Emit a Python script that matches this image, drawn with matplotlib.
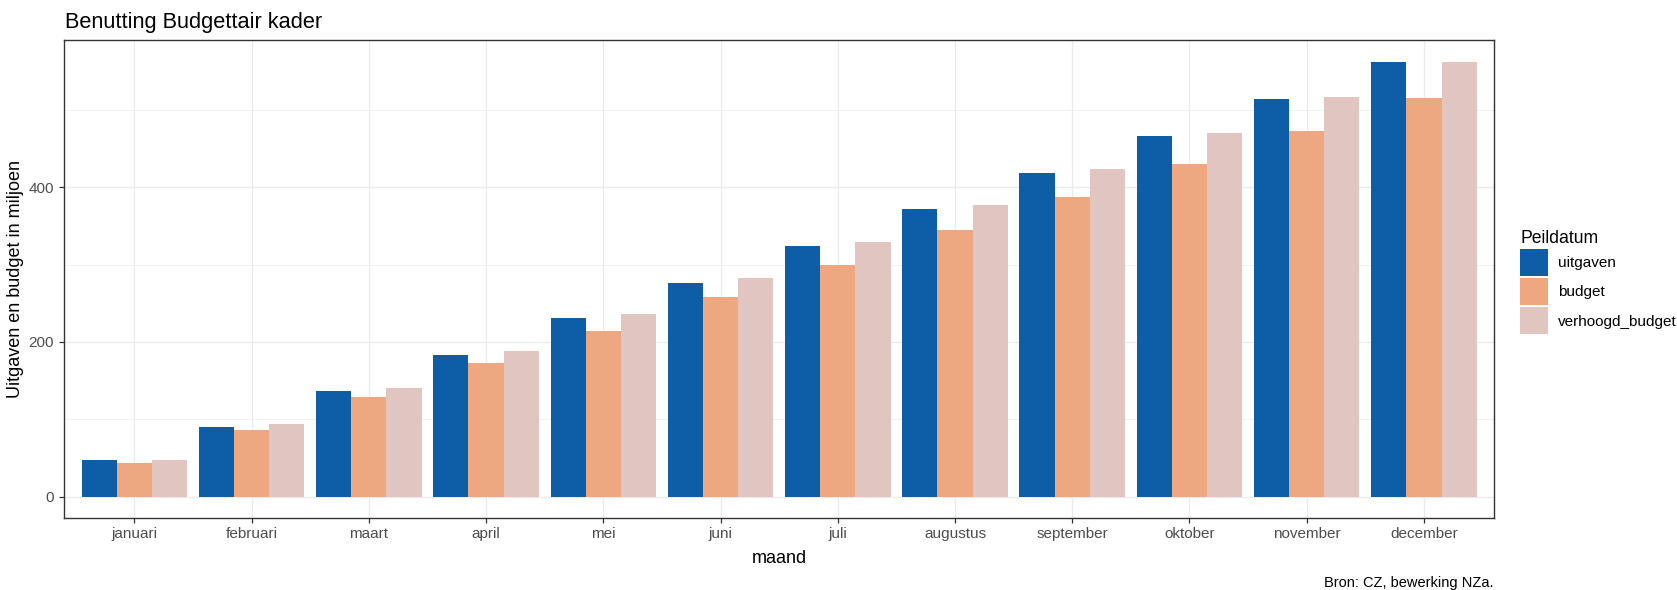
import numpy as np
import matplotlib
matplotlib.use("Agg")
import matplotlib.pyplot as plt
from matplotlib.ticker import MultipleLocator

plt.rcParams['font.family'] = ['Liberation Sans', 'DejaVu Sans']

# maanden en waarden (miljoen)
maanden = ['januari', 'februari', 'maart', 'april', 'mei', 'juni', 'juli',
           'augustus', 'september', 'oktober', 'november', 'december']
uitgaven = [47.7, 89.5, 136.2, 183.3, 230.3, 276.2, 324.7, 371.9, 419.0, 466.8, 513.7, 562.4]
budget = [42.8, 86.6, 128.4, 172.1, 214.3, 258.4, 300.0, 344.2, 387.9, 429.8, 473.2, 515.1]
verhoogd_budget = [47.7, 94.3, 141.0, 187.7, 235.5, 282.7, 329.4, 376.6, 423.8, 470.2, 517.1, 562.4]

series = ['uitgaven', 'budget', 'verhoogd_budget']
kleuren = ['#0D5EA6', '#EDA882', '#E0C5C0']

fig = plt.figure(figsize=(16.77, 5.90), dpi=100)
ax = fig.add_axes([0.03816, 0.12153, 0.8529, 0.8107])

x = np.arange(len(maanden))
breedte = 0.3
for i, (naam, waarden) in enumerate(zip(series, [uitgaven, budget, verhoogd_budget])):
    ax.bar(x + (i - 1) * breedte, waarden, width=breedte, color=kleuren[i],
           label=naam, zorder=3, linewidth=0)

# ggplot-achtige marge van 5% boven en onder
ymax = max(max(uitgaven), max(budget), max(verhoogd_budget))
ax.set_ylim(-0.05 * ymax, 1.05 * ymax)
ax.set_xlim(-0.6, len(maanden) - 0.4)

ax.set_xticks(x)
ax.set_xticklabels(maanden)
ax.yaxis.set_major_locator(MultipleLocator(200))
ax.yaxis.set_minor_locator(MultipleLocator(100))

ax.grid(which='major', color='#EBEBEB', linewidth=0.9, zorder=0)
ax.grid(which='minor', axis='y', color='#EBEBEB', linewidth=0.5, zorder=0)
ax.set_axisbelow(True)

for s in ax.spines.values():
    s.set_color('#333333')
    s.set_linewidth(1.0)

ax.tick_params(which='major', length=3.6, width=0.9, color='#333333',
               labelcolor='#4D4D4D', labelsize=11, pad=3.6)
ax.tick_params(axis='x', pad=2.5)
ax.tick_params(which='minor', length=0)

ax.set_xlabel('maand', fontsize=13, color='black')
ax.xaxis.set_label_coords(0.5, -0.066)
ax.set_ylabel('Uitgaven en budget in miljoen', fontsize=13, color='black')
ax.yaxis.set_label_coords(-0.028, 0.5)

fig.text(65 / 1677, 1 - 28 / 590, 'Benutting Budgettair kader', fontsize=15.7,
         ha='left', va='baseline')
fig.text(1494 / 1677, 1 - 583 / 590, 'Bron: CZ, bewerking NZa.', fontsize=10.5,
         ha='right', va='center')

leg = ax.legend(title='Peildatum', loc='upper left',
                bbox_to_anchor=(1520 / 1677, 1 - 230 / 590), bbox_transform=fig.transFigure,
                frameon=False, fontsize=11, title_fontsize=12.7,
                handlelength=1.82, handleheight=2.36, labelspacing=0.13,
                handletextpad=0.67, borderpad=0, borderaxespad=0, alignment='left')

fig.savefig('out.png', dpi=100, facecolor='white')
